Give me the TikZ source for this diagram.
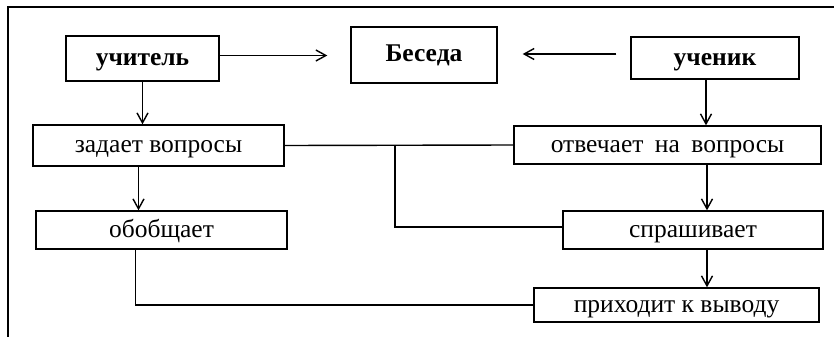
\documentclass[tikz,border=0pt]{standalone}
\usepackage{fontspec}
\setmainfont{Liberation Serif}
\usetikzlibrary{arrows.meta,positioning,calc}
\tikzset{box/.style={
            draw,
            line width=1.4pt,
            inner sep=0pt,
            text height=17pt,
            text depth=3pt,
            font=\fontsize{25.5}{29}\selectfont
        },
        headbox/.style={
            box,
            font=\fontsize{25.5}{29}\selectfont\bfseries
        },
        link/.style={
            line width=1.4pt,
            >={Straight Barb[length=10pt,width=11pt,line width=1.4pt]}
        },
        frame/.style={
            line width=1.6pt
        }
    }
\begin{document}
\begin{tikzpicture}[x=1pt,y=-1pt]
        \useasboundingbox (0,0) rectangle (834,337);
        \draw[frame] (834,7) -- (8,7) -- (8,337);
        % top row
        \node[headbox,minimum width=153pt,minimum height=45pt] at (142.5,58.5) (uchitel) {учитель};
        \node[headbox,minimum width=146pt,minimum height=56pt] at (424,55) (beseda) {Беседа};
        \node[headbox,minimum width=168pt,minimum height=42pt] at (715,58) (uchenik) {ученик};
        % actions
        \node[box,minimum width=251pt,minimum height=41pt] at (158.5,145.5) (zadaet) {задает вопросы};
        \node[box,minimum width=307pt,minimum height=38pt] at (667.5,145) (otvechaet) {отвечает\hspace{0.2em} на\hspace{0.2em} вопросы};
        \node[box,minimum width=251pt,minimum height=38pt] at (161.5,230) (obobshaet) {обобщает};
        \node[box,minimum width=260pt,minimum height=38pt] at (693,230) (sprashivaet) {спрашивает};
        \node[box,minimum width=285pt,minimum height=34pt] at (676.5,305) (vyvod) {приходит к выводу};
        \coordinate (junc) at (395,145);
        % arrows
        \draw[link,->,shorten >=23pt] ([yshift=3pt]uchitel.east) -- ([yshift=3pt]uchitel.east -| beseda.west);
        \draw[link,->,shorten <=14pt,shorten >=25pt] ([yshift=4pt]uchenik.west) -- ([yshift=4pt]uchenik.west -| beseda.east);
        \draw[link,->] (uchitel.south) -- (uchitel.south |- zadaet.north);
        \draw[link,->] ([xshift=-9pt]uchenik.south) -- ([xshift=-9pt]uchenik.south |- otvechaet.north);
        \draw[link,->] ([xshift=-20pt]zadaet.south) -- ([xshift=-20pt]zadaet.south |- obobshaet.north);
        \draw[link,->] ([xshift=39.5pt]otvechaet.south) -- ([xshift=39.5pt]otvechaet.south |- sprashivaet.north);
        \draw[link,->] ([xshift=14pt]sprashivaet.south) -- ([xshift=14pt]sprashivaet.south |- vyvod.north);
        % plain lines
        \draw[link] (zadaet.east) -- (otvechaet.west);
        \draw[link] (junc) |- ([yshift=3pt]sprashivaet.west);
        \draw[link] ([xshift=-26pt]obobshaet.south) |- (vyvod.west);
    \end{tikzpicture}
\end{document}
